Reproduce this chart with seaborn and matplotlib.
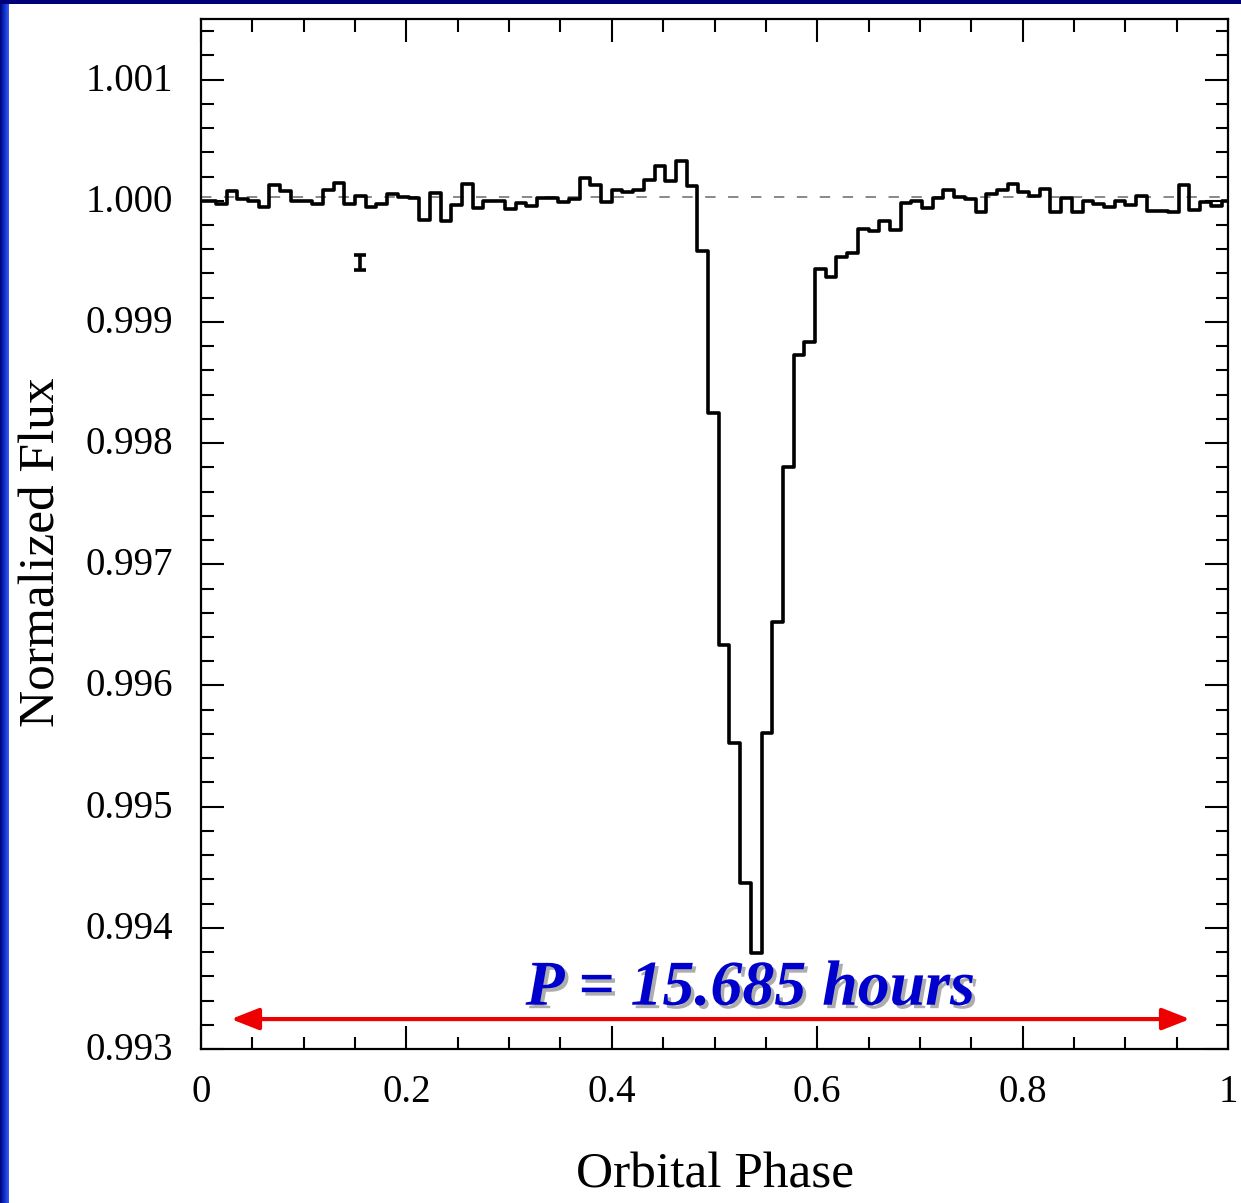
import numpy as np
import pandas as pd
import matplotlib
matplotlib.use("Agg")
import matplotlib.pyplot as plt
import matplotlib.patheffects as pe
import matplotlib.transforms as mtransforms
from matplotlib.colors import LinearSegmentedColormap
import seaborn as sns

# ---------------- data ----------------
n_bins = 96
bin_offset = 0.4  # in units of bins
flux = [
    0.999994, 0.999975, 1.000079, 1.000016, 0.999996, 0.999947, 1.000134, 1.000079,
    0.999994, 0.999994, 0.999975, 1.000085, 1.000145, 0.999975, 1.000043, 0.999947,
    0.999975, 1.000057, 1.000035, 1.000024, 0.999843, 1.000062, 0.999837, 0.999969,
    1.000138, 0.999944, 0.999998, 1.000002, 0.999936, 0.999981, 0.999957, 1.000023,
    1.000023, 0.999988, 1.000016, 1.000188, 1.000126, 0.999988, 1.000085, 1.000075,
    1.000090, 1.000173, 1.000287, 1.000159, 1.000329, 1.000118, 0.999584, 0.998248,
    0.996332, 0.995526, 0.994372, 0.993795, 0.995604, 0.996524, 0.997803, 0.998724,
    0.998833, 0.999439, 0.999370, 0.999534, 0.999567, 0.999769, 0.999749, 0.999831,
    0.999755, 0.999981, 0.999994, 0.999944, 1.000019, 1.000085, 1.000035, 1.000014,
    0.999911, 1.000056, 1.000088, 1.000140, 1.000076, 1.000043, 1.000093, 0.999906,
    1.000023, 0.999906, 0.999998, 0.999975, 0.999947, 0.999995, 0.999969, 1.000043,
    0.999915, 0.999915, 0.999911, 1.000126, 0.999920, 0.999990, 0.999953, 1.000002,
]
err_phase = 0.1548
err_flux = 0.999487
err_size = 0.000062
ref_level = 1.000027
period_text = "P = 15.685 hours"
arrow_start, arrow_end, arrow_y = 0.0292, 0.963, 0.993247
xticks = [0, 0.2, 0.4, 0.6, 0.8, 1.0]
xticklabels = ["0", "0.2", "0.4", "0.6", "0.8", "1"]
yticks = [0.993, 0.994, 0.995, 0.996, 0.997, 0.998, 0.999, 1.000, 1.001]
yticklabels = ["0.993", "0.994", "0.995", "0.996", "0.997", "0.998", "0.999", "1.000", "1.001"]

# step table (wrap the last bin to the start)
left_edges = (np.arange(n_bins) + bin_offset) / n_bins
phase = np.concatenate([[0.0], left_edges, [1.0]])
vals = np.concatenate([[flux[-1]], flux, [flux[-1]]])
df = pd.DataFrame({"phase": phase, "flux": vals})

# ---------------- style ----------------
sns.set_theme(style="ticks")
plt.rcParams["font.family"] = ["Liberation Serif", "DejaVu Serif"]
plt.rcParams["lines.scale_dashes"] = False
plt.rcParams["text.color"] = "black"
plt.rcParams["axes.labelcolor"] = "black"
plt.rcParams["xtick.color"] = "black"
plt.rcParams["ytick.color"] = "black"

W, H = 1241, 1203
fig = plt.figure(figsize=(W / 100, H / 100), dpi=100)
fig.patch.set_facecolor("white")

# blue frame pieces
grad_ax = fig.add_axes([0, 0, 9 / W, 1])
grad = np.linspace(0, 1, 50).reshape(1, -1)
cmap = LinearSegmentedColormap.from_list("bl", ["#00007a", "#1030c8", "#3a5cf0"])
grad_ax.imshow(grad, aspect="auto", cmap=cmap, extent=[0, 1, 0, 1])
grad_ax.axis("off")
top_ax = fig.add_axes([0, 1 - 4 / H, 1, 4 / H])
top_ax.set_facecolor("#00007a")
top_ax.set_xticks([]); top_ax.set_yticks([])
for s in top_ax.spines.values():
    s.set_visible(False)

ax = fig.add_axes([201 / W, 1 - 1049 / H, 1027 / W, 1030 / H])

sns.lineplot(data=df, x="phase", y="flux", drawstyle="steps-post", color="black",
             linewidth=2.6, ax=ax, estimator=None, sort=False)

ax.axhline(ref_level, color="#888888", linewidth=1.4, dashes=(7.5, 9), zorder=1)

ax.errorbar([err_phase], [err_flux], yerr=[err_size], fmt="none", ecolor="black",
            elinewidth=2.6, capsize=4.5, capthick=2.6)

ax.set_xlim(0, 1)
ax.set_ylim(0.993, 1.0015)
ax.set_xticks(xticks)
ax.set_xticklabels(xticklabels)
ax.set_yticks(yticks)
ax.set_yticklabels(yticklabels)
ax.set_xticks(np.arange(0, 1.0001, 0.05), minor=True)
ax.set_yticks(np.arange(0.993, 1.0015, 0.0002), minor=True)

ax.tick_params(which="both", direction="in", top=True, right=True, width=1.5,
               colors="black", labelsize=28)
ax.tick_params(which="major", length=16.5)
ax.tick_params(which="minor", length=9)
ax.tick_params(axis="x", which="major", pad=18)
ax.tick_params(axis="y", which="major", pad=20)
for s in ax.spines.values():
    s.set_linewidth(1.6)
    s.set_color("black")

# nudge y tick labels up a few pixels
shift = mtransforms.ScaledTranslation(0, 3 / 100, fig.dpi_scale_trans)
for lbl in ax.get_yticklabels():
    lbl.set_transform(lbl.get_transform() + shift)

ax.set_xlabel("Orbital Phase", fontsize=37, va="center", color="black")
ax.set_ylabel("Normalized Flux", fontsize=37, va="center", color="black")
ax.xaxis.set_label_coords(0.5, -0.1225)
ax.yaxis.set_label_coords(-0.1548, 0.482)

ax.text(0.535, 0.99325, period_text, fontsize=46, fontweight="bold", fontstyle="italic",
        color="#0000CC", ha="center", va="bottom",
        path_effects=[pe.SimplePatchShadow(offset=(2.5, -2.5), shadow_rgbFace="#777777", alpha=0.6),
                      pe.Normal()])

ax.annotate("", xy=(arrow_end, arrow_y), xytext=(arrow_start, arrow_y),
            arrowprops=dict(arrowstyle="<|-|>,head_length=1.4,head_width=0.55",
                            color="#EE0000", linewidth=3, shrinkA=0, shrinkB=0))

fig.savefig("out.png", dpi=100, facecolor="white")
